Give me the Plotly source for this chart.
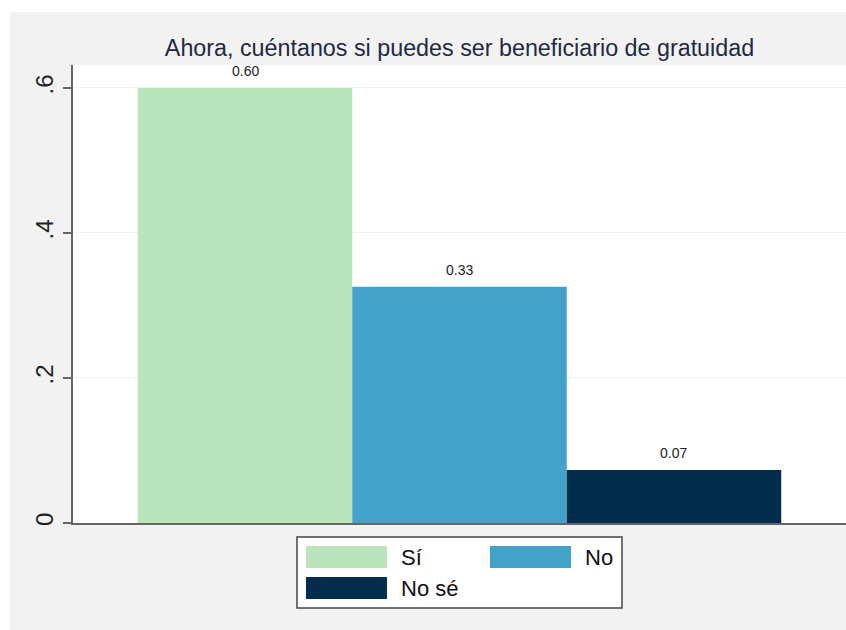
import plotly.graph_objects as go

# data
categories = ["Sí", "No", "No sé"]
shares = [0.60, 0.326, 0.073]
bar_colors = ["#BAE4BC", "#43A2CA", "#032D4D"]
ytick_vals = [0, 0.2, 0.4, 0.6]
ytick_text = ["0", ".2", ".4", ".6"]
title_text = "Ahora, cuéntanos si puedes ser beneficiario de gratuidad"

W, H = 846, 630
ML, MR, MT, MB = 73, 0, 65, 107
PW, PH = W - ML - MR, H - MT - MB


def px(x):
    # pixel x -> paper x
    return (x - ML) / PW


def py(y):
    # pixel y (from top) -> paper y
    return (H - MB - y) / PH


fig = go.Figure()
positions = list(range(1, len(categories) + 1))
for pos, cat, val, col in zip(positions, categories, shares, bar_colors):
    fig.add_trace(go.Bar(
        x=[pos], y=[val], width=1, name=cat,
        marker=dict(color=col, line=dict(width=0)),
        showlegend=False, hoverinfo="skip",
    ))
    fig.add_annotation(
        x=pos, y=val, text=f"{val:.2f}", showarrow=False,
        yanchor="bottom", yshift=7,
        font=dict(size=14, color="#222222"),
    )

shapes = [
    # thin white frame around the grey graph region
    dict(type="rect", xref="paper", yref="paper", x0=px(0), x1=px(10),
         y0=py(H), y1=py(0), fillcolor="white", line=dict(width=0)),
    dict(type="rect", xref="paper", yref="paper", x0=px(0), x1=px(W),
         y0=py(12), y1=py(0), fillcolor="white", line=dict(width=0)),
    # legend box
    dict(type="rect", xref="paper", yref="paper", x0=px(297), x1=px(622),
         y0=py(608), y1=py(537), fillcolor="white",
         line=dict(color="#444444", width=1.5)),
]

# legend keys, two per row
for i, (cat, col) in enumerate(zip(categories, bar_colors)):
    row, c = divmod(i, 2)
    x0 = 306 + c * 184
    y0 = 546 + row * 31
    shapes.append(dict(type="rect", xref="paper", yref="paper",
                       x0=px(x0), x1=px(x0 + 81), y0=py(y0 + 22), y1=py(y0),
                       fillcolor=col, line=dict(width=0)))
    fig.add_annotation(xref="paper", yref="paper", x=px(x0 + 93), y=py(y0 + 11),
                       text=cat, showarrow=False, xanchor="left", yanchor="middle",
                       font=dict(size=22, color="#111111"))

fig.update_layout(
    width=W, height=H,
    margin=dict(l=ML, r=MR, t=MT, b=MB),
    paper_bgcolor="#F2F2F2", plot_bgcolor="white",
    font=dict(family="Liberation Sans, Arial, sans-serif"),
    barmode="overlay",
    shapes=shapes,
    title=dict(text=title_text, x=0.5, xref="paper", xanchor="center",
               y=1 - 48 / H, yref="container", yanchor="middle",
               font=dict(size=23.3, color="#1E2A45")),
)
fig.update_xaxes(range=[0.198, 3.802], showticklabels=False, ticks="",
                 showgrid=False, zeroline=False, showline=True,
                 linecolor="#666666", linewidth=2)
fig.update_yaxes(range=[0, 0.6317], tickvals=ytick_vals, ticktext=ytick_text,
                 tickangle=-90, tickfont=dict(size=24, color="#222222"),
                 ticks="outside", ticklen=8, tickwidth=2, tickcolor="#666666",
                 showline=True, linecolor="#666666", linewidth=2,
                 showgrid=True, gridcolor="#EAF2F3", gridwidth=1, zeroline=False)

# the page's default body margin would push the 846x630 figure off the window
fig.write_html(
    "out.html",
    config={"displayModeBar": False},
    post_script="document.body.style.margin='0';document.body.style.overflow='hidden';",
)
